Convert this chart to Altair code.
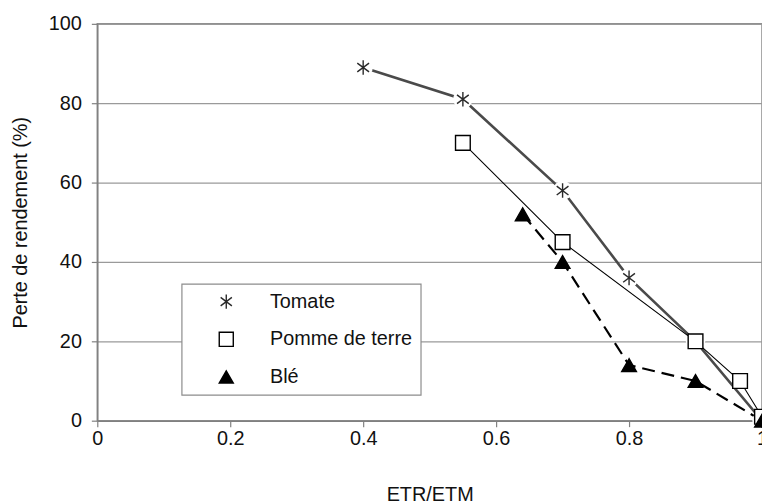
import altair as alt
import pandas as pd

series_names = ["Tomate", "Pomme de terre", "Blé"]

tomate_x = [0.4, 0.55, 0.7, 0.8, 0.9, 1.0]
tomate_y = [89, 81, 58, 36, 20, 0]

pomme_x = [0.55, 0.7, 0.9, 0.967, 1.0]
pomme_y = [70, 45, 20, 10, 1]

ble_x = [0.64, 0.7, 0.8, 0.9, 1.0]
ble_y = [52, 40, 14, 10, 0]

x_ticks = [0, 0.2, 0.4, 0.6, 0.8, 1]
y_ticks = [0, 20, 40, 60, 80, 100]

rows = []
for name, xs, ys in [(series_names[0], tomate_x, tomate_y),
                     (series_names[1], pomme_x, pomme_y),
                     (series_names[2], ble_x, ble_y)]:
    for i, (a, b) in enumerate(zip(xs, ys)):
        rows.append({"Culture": name, "x": a, "y": b, "o": i})
df = pd.DataFrame(rows)

FONT = "Liberation Sans"
asterisk = "M0,-1L0,1M-0.8,-0.6L0.8,0.6M-0.8,0.6L0.8,-0.6"

xenc = alt.X("x:Q", scale=alt.Scale(domain=[0, 1], nice=False),
             axis=alt.Axis(values=x_ticks, title="ETR/ETM", grid=False,
                           labelExpr="datum.value == 0 ? '0' : datum.value == 1 ? '1' : format(datum.value, '.1f')"))
yenc = alt.Y("y:Q", scale=alt.Scale(domain=[0, 100], nice=False),
             axis=alt.Axis(values=y_ticks, title="Perte de rendement (%)", grid=True))

base = alt.Chart(df)

line_t = base.transform_filter(alt.datum.Culture == "Tomate").mark_line(
    color="#4a4a4a", strokeWidth=2.6).encode(x=xenc, y=yenc, order="o:Q")
line_p = base.transform_filter(alt.datum.Culture == "Pomme de terre").mark_line(
    color="black", strokeWidth=1.1).encode(x=xenc, y=yenc, order="o:Q")
line_b = base.transform_filter(alt.datum.Culture == "Blé").mark_line(
    color="black", strokeWidth=2.2, strokeDash=[13, 7]).encode(x=xenc, y=yenc, order="o:Q")

halo = base.transform_filter(alt.datum.Culture == "Tomate").mark_point(
    shape="circle", filled=True, color="white", size=380, opacity=1).encode(x=xenc, y=yenc)

pts = base.mark_point(size=220, strokeWidth=1.4, opacity=1).encode(
    x=xenc, y=yenc,
    shape=alt.Shape("Culture:N", scale=alt.Scale(domain=series_names, range=[asterisk, "square", "triangle-up"]),
                    title=None),
    stroke=alt.Stroke("Culture:N", scale=alt.Scale(domain=series_names, range=["#2a2a2a", "black", "black"]),
                      title=None),
    fill=alt.Fill("Culture:N", scale=alt.Scale(domain=series_names, range=["transparent", "white", "black"]),
                  title=None),
)

chart = alt.layer(line_t, line_p, line_b, halo, pts).properties(
    width=670, height=400,
    autosize=alt.AutoSizeParams(type="none"),
    padding={"left": 90, "top": 14, "right": 0, "bottom": 81},
).configure_view(
    stroke="#8c8c8c", strokeWidth=1.5
).configure_axis(
    labelFont=FONT, titleFont=FONT, labelFontSize=20, titleFontSize=20,
    labelColor="#111", titleColor="#111", titleFontWeight="normal",
    domainColor="#808080", domainWidth=1.5, tickColor="#808080", tickSize=6, tickWidth=1.2,
    gridColor="#9a9a9a", gridWidth=1.2,
).configure_axisX(
    labelPadding=2, titlePadding=36, labelFlush=False
).configure_axisY(
    labelPadding=10, titlePadding=18, labelFlush=False
).configure_legend(
    orient="none", legendX=85, legendY=262,
    strokeColor="#8c8c8c", strokeWidth=1.2, fillColor="white",
    padding=8, labelFont=FONT, labelFontSize=20, labelColor="#111",
    rowPadding=18, symbolSize=200, symbolStrokeWidth=1.4,
    symbolOffset=27, labelOffset=34, labelLimit=300,
)

chart.save("out.html", embed_options={"renderer": "svg", "actions": False})
